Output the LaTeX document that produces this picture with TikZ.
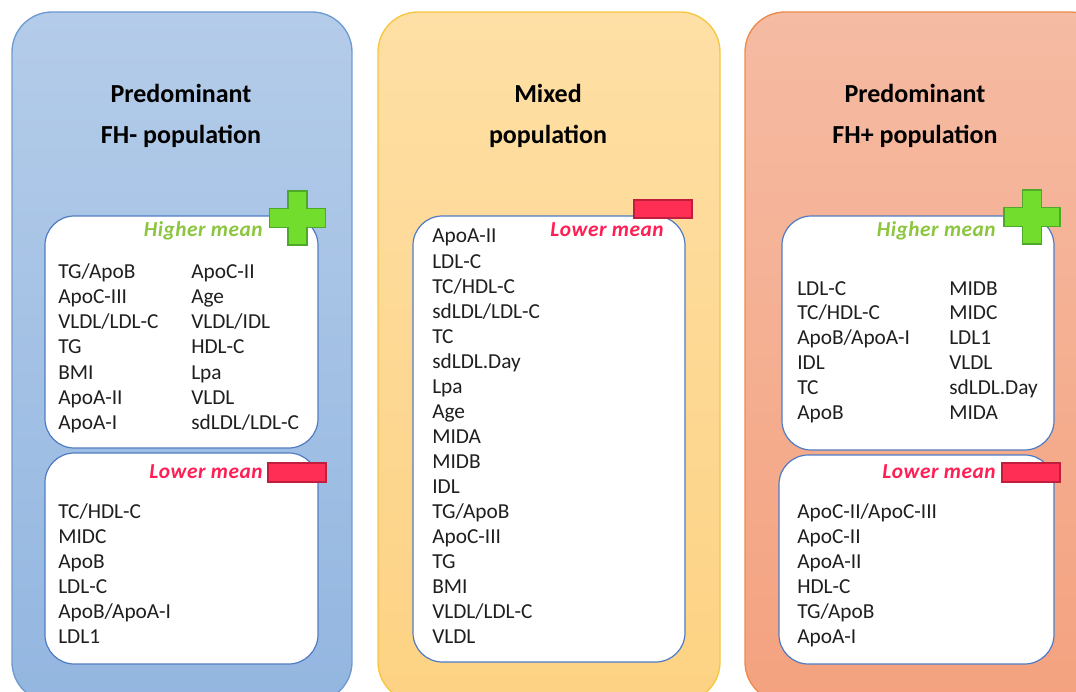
\documentclass[tikz,border=0pt]{standalone}
\usepackage{fontspec}
\setmainfont{Carlito}
\newfontfamily\hdrfont[LetterSpace=2.5]{Carlito}
\definecolor{blueTop}{HTML}{B4CCE9}
\definecolor{blueBot}{HTML}{93B6E0}
\definecolor{blueEdge}{HTML}{6E9AD2}
\definecolor{yelTop}{HTML}{FEDFA5}
\definecolor{yelBot}{HTML}{FDD283}
\definecolor{yelEdge}{HTML}{F7C640}
\definecolor{salTop}{HTML}{F5BBA3}
\definecolor{salBot}{HTML}{F4A27F}
\definecolor{salEdge}{HTML}{EE8A4E}
\definecolor{boxEdge}{HTML}{4F7BC4}
\definecolor{plusFill}{HTML}{72DD2D}
\definecolor{plusEdge}{HTML}{4EA82A}
\definecolor{minusFill}{HTML}{FF2E55}
\definecolor{minusEdge}{HTML}{C01E3C}
\definecolor{greenText}{HTML}{8CC63F}
\definecolor{redText}{HTML}{FF1F54}
\tikzset{
  panelshape/.style={line width=1pt, rounded corners=30},
  innerbox/.style={draw=boxEdge, fill=white, line width=0.9pt, rounded corners=22},
  item/.style={anchor=base west, inner sep=0pt, font=\fontsize{16}{19}\selectfont, text=black!88},
  ttl/.style={anchor=base, inner sep=0pt, font=\bfseries\fontsize{19.5}{24}\selectfont, text=black},
  higher/.style={anchor=base east, inner sep=0pt, font=\hdrfont\bfseries\itshape\fontsize{16}{19}\selectfont, text=greenText},
  lower/.style={anchor=base east, inner sep=0pt, font=\hdrfont\bfseries\itshape\fontsize{16}{19}\selectfont, text=redText},
  plussign/.style={fill=plusFill, draw=plusEdge, line width=0.8pt},
  minussign/.style={fill=minusFill, draw=minusEdge, line width=0.8pt}
}
\newcommand{\plusat}[2]{%
  \path[plussign] (#1-28,#2-9.5) -- (#1-9.5,#2-9.5) -- (#1-9.5,#2-27) -- (#1+9.5,#2-27) -- (#1+9.5,#2-9.5) -- (#1+28,#2-9.5) -- (#1+28,#2+9.5) -- (#1+9.5,#2+9.5) -- (#1+9.5,#2+27) -- (#1-9.5,#2+27) -- (#1-9.5,#2+9.5) -- (#1-28,#2+9.5) -- cycle;}
\begin{document}
\begin{tikzpicture}[x=0.75pt,y=-0.75pt]
\useasboundingbox (0,0) rectangle (1076,692);
\clip (0,0) rectangle (1076,692);
% panels
\path[panelshape, top color=blueTop, bottom color=blueBot, draw=blueEdge] (12,12) rectangle (352,702);
\path[panelshape, top color=yelTop, bottom color=yelBot, draw=yelEdge] (378,12) rectangle (720,702);
\path[panelshape, top color=salTop, bottom color=salBot, draw=salEdge] (745,12) rectangle (1110,702);
% titles
\node[ttl] (t1a) at (181,103) {Predominant};
\node[ttl] (t1b) at (181,143) {FH- population};
\node[ttl] (t2a) at (548,103) {Mixed};
\node[ttl] (t2b) at (548,143) {population};
\node[ttl] (t3a) at (915,103) {Predominant};
\node[ttl] (t3b) at (915,143) {FH+ population};
% inner boxes
\path[innerbox] (45,216) rectangle (318,448);
\path[innerbox] (45,453) rectangle (318,664);
\path[innerbox] (413,216) rectangle (685,662);
\path[innerbox] (782,216) rectangle (1054,450);
\path[innerbox] (779,455) rectangle (1054,664);
% signs
\plusat{297.5}{218}
\plusat{1032}{217}
\path[minussign] (268,463) rectangle (326,482);
\path[minussign] (634,200) rectangle (692,218);
\path[minussign] (1002,463) rectangle (1060,482);
% headers
\node[higher] (h1) at (263,237) {Higher mean};
\node[lower] (l1) at (263,478) {Lower mean};
\node[lower] (l2) at (664,237) {Lower mean};
\node[higher] (h3) at (996,237) {Higher mean};
\node[lower] (l3) at (996,478) {Lower mean};
% left higher
\foreach \t [count=\i from 0] in {TG/ApoB,ApoC-III,VLDL/LDL-C,TG,BMI,ApoA-II,ApoA-I}
  \node[item] (lha\i) at (58,278+25.3*\i) {\t};
\foreach \t [count=\i from 0] in {ApoC-II,Age,VLDL/IDL,HDL-C,Lpa,VLDL,sdLDL/LDL-C}
  \node[item] (lhb\i) at (191,278+25.3*\i) {\t};
% left lower
\foreach \t [count=\i from 0] in {TC/HDL-C,MIDC,ApoB,LDL-C,ApoB/ApoA-I,LDL1}
  \node[item] (ll\i) at (58,518+25*\i) {\t};
% middle
\foreach \t [count=\i from 0] in {ApoA-II,LDL-C,TC/HDL-C,sdLDL/LDL-C,TC,sdLDL.Day,Lpa,Age,MIDA,MIDB,IDL,TG/ApoB,ApoC-III,TG,BMI,VLDL/LDL-C,VLDL}
  \node[item] (m\i) at (432,243+25.06*\i) {\t};
% right higher
\foreach \t [count=\i from 0] in {LDL-C,TC/HDL-C,ApoB/ApoA-I,IDL,TC,ApoB}
  \node[item] (rha\i) at (797,295+24.8*\i) {\t};
\foreach \t [count=\i from 0] in {MIDB,MIDC,LDL1,VLDL,sdLDL.Day,MIDA}
  \node[item] (rhb\i) at (949,295+24.8*\i) {\t};
% right lower
\foreach \t [count=\i from 0] in {ApoC-II/ApoC-III,ApoC-II,ApoA-II,HDL-C,TG/ApoB,ApoA-I}
  \node[item] (rl\i) at (797,518+25*\i) {\t};
\end{tikzpicture}
\end{document}
